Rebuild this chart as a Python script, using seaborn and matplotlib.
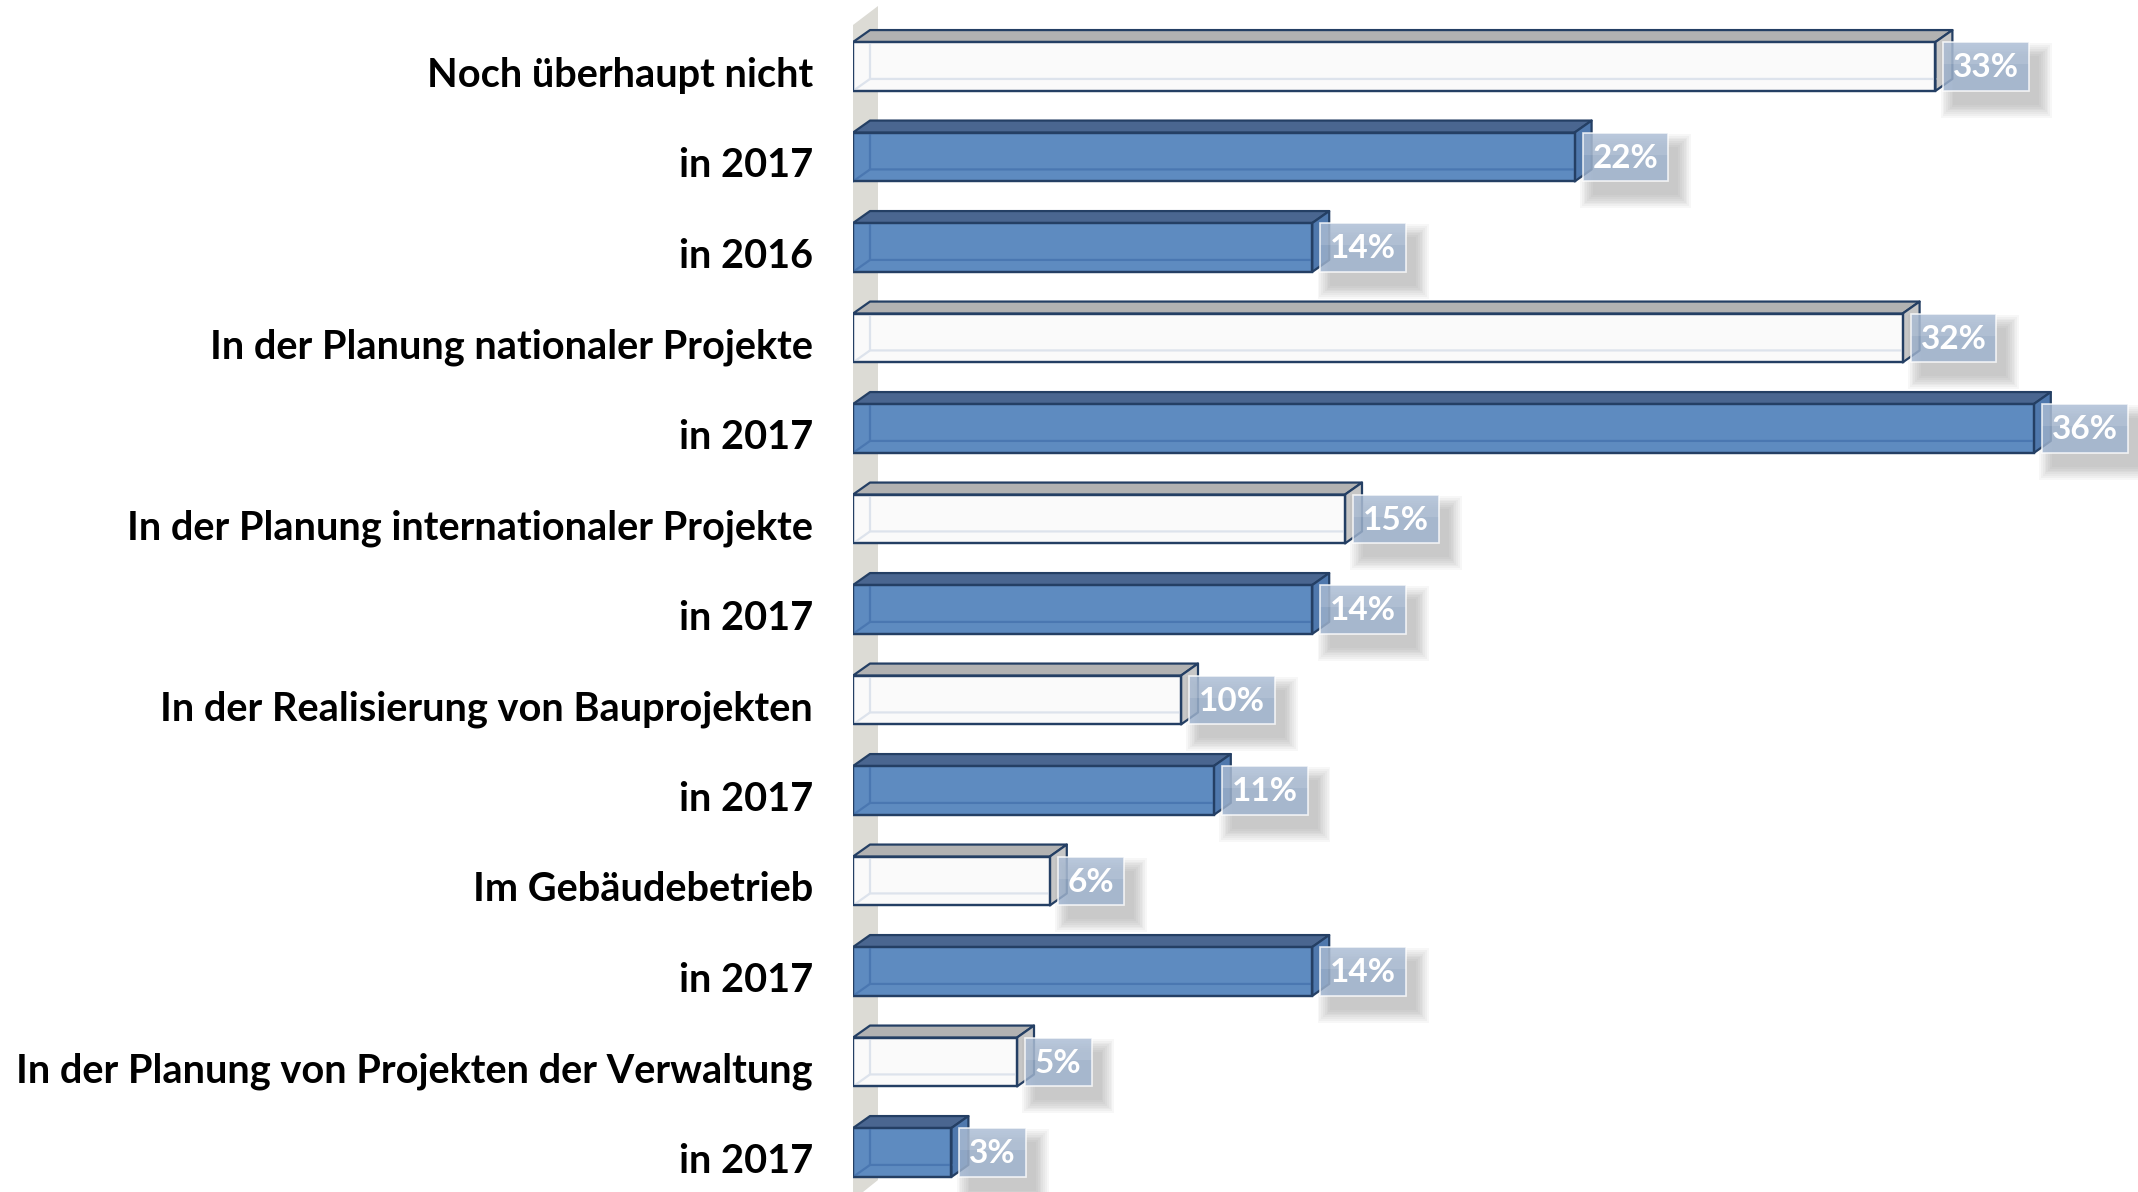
import matplotlib
matplotlib.use("Agg")
import matplotlib.pyplot as plt
import matplotlib.transforms as mtransforms
import seaborn as sns
import pandas as pd
import numpy as np
from matplotlib.patches import Polygon, Rectangle
from matplotlib.lines import Line2D

# ---------------- data ----------------
categories = [
    "Noch überhaupt nicht",
    "in 2017",
    "in 2016",
    "In der Planung nationaler Projekte",
    "in 2017",
    "In der Planung internationaler Projekte",
    "in 2017",
    "In der Realisierung von Bauprojekten",
    "in 2017",
    "Im Gebäudebetrieb",
    "in 2017",
    "In der Planung von Projekten der Verwaltung",
    "in 2017",
]
values = [33, 22, 14, 32, 36, 15, 14, 10, 11, 6, 14, 5, 3]
kinds = ["gesamt", "jahr", "jahr", "gesamt", "jahr", "gesamt", "jahr",
         "gesamt", "jahr", "gesamt", "jahr", "gesamt", "jahr"]
value_labels = [f"{v}%" for v in values]

# ---------------- styles ----------------
front = {"gesamt": "#fafafa", "jahr": "#5e8bc0"}
topc = {"gesamt": "#b2b2b2", "jahr": "#4a6690"}
sidec = {"gesamt": "#c6c6c6", "jahr": "#4f78ad"}
innerc = {"gesamt": "#dde3ec", "jahr": "#4a77b1"}
edge = "#243f64"

sns.set_theme(style="white")
plt.rcParams["font.family"] = ["Lato", "DejaVu Sans"]

W, H = 2138, 1192
fig = plt.figure(figsize=(W / 100, H / 100), dpi=100)
fig.patch.set_facecolor("white")
x_origin = 853
ax = fig.add_axes([x_origin / W, 0, (W - x_origin) / W, 1])

n = len(values)
df = pd.DataFrame({
    "key": [f"{i:02d}" for i in range(n)],
    "label": categories,
    "value": values,
    "kind": kinds,
})

sns.barplot(data=df, x="value", y="key", hue="kind", palette=front,
            dodge=False, legend=False, width=0.54, saturation=1,
            edgecolor=edge, linewidth=1.6, ax=ax, zorder=3)

row_px = 90.5
first_px = 66.5
ax.set_xlim(0, (W - x_origin) / 32.8)
ax.set_ylim(12 + (H - (first_px + 12 * row_px)) / row_px, -first_px / row_px)
ax.set_yticks(range(n))
ax.set_yticklabels(categories, fontsize=28.6, fontweight="bold", color="black")
ax.tick_params(axis="y", length=0, pad=40 * 0.72)
shift = mtransforms.ScaledTranslation(0, -5 / 100, fig.dpi_scale_trans)
for lbl in ax.get_yticklabels():
    lbl.set_transform(lbl.get_transform() + shift)
ax.set_xticks([])
ax.set_xlabel("")
ax.set_ylabel("")
for s in ax.spines.values():
    s.set_visible(False)
ax.set_facecolor("white")

t = ax.transData
pxx = t.transform((1, 0))[0] - t.transform((0, 0))[0]
pxy = abs(t.transform((0, 1))[1] - t.transform((0, 0))[1])
dx = 17 / pxx
dy = 12 / pxy


def to_data(px, py_top):
    return ax.transData.inverted().transform((px, H - py_top))


# back wall
w_tl = to_data(853, 25)
w_tr = to_data(878, 6)
w_br = to_data(878, 1180)
w_bl = to_data(853, 1200)
ax.add_patch(Polygon([w_tl, w_tr, w_br, w_bl], closed=True, fc="#dcdbd5",
                     ec="none", zorder=0.5, clip_on=False))

bars = [p for p in ax.patches if isinstance(p, Rectangle) and p.get_width() > 0]
bar_info = []
for p in bars:
    x0 = p.get_x()
    x1 = x0 + p.get_width()
    yt = p.get_y()
    yb = yt + p.get_height()
    idx = int(round((yt + yb) / 2))
    k = df["kind"][idx]
    # top face
    ax.add_patch(Polygon([(x0, yt), (x1, yt), (x1 + dx, yt - dy), (x0 + dx, yt - dy)],
                         closed=True, fc=topc[k], ec=edge, lw=1.6, zorder=2.8,
                         joinstyle="round"))
    # side face
    ax.add_patch(Polygon([(x1, yt), (x1 + dx, yt - dy), (x1 + dx, yb - dy), (x1, yb)],
                         closed=True, fc=sidec[k], ec=edge, lw=1.6, zorder=2.8,
                         joinstyle="round"))
    # inner (back) edges seen through the front face
    ax.add_line(Line2D([x0, x0 + dx, x1], [yb, yb - dy, yb - dy], color=innerc[k],
                       lw=1.6, zorder=3.5))
    ax.add_line(Line2D([x0 + dx, x0 + dx], [yt, yb - dy], color=innerc[k],
                       lw=1.6, zorder=3.5))
    # redraw front outline on top
    ax.add_patch(Rectangle((x0, yt), x1 - x0, yb - yt, fc="none", ec=edge,
                           lw=1.6, zorder=3.6))
    bar_info.append((x1, yt, yb, idx))

# value labels
texts = []
for x1, yt, yb, idx in bar_info:
    tx = ax.text(x1 + 18 / pxx, (yt + yb) / 2 + 1 / pxy, value_labels[idx],
                 ha="left", va="center", fontsize=24, fontweight="bold",
                 color="white", zorder=7)
    texts.append((tx, x1, yt, yb))

fig.canvas.draw()
renderer = fig.canvas.get_renderer()
for tx, x1, yt, yb in texts:
    bb = tx.get_window_extent(renderer)
    right = ax.transData.inverted().transform((bb.x1, 0))[0] + 10 / pxx
    left = x1 + 8 / pxx
    wdt = right - left
    hgt = yb - yt
    # soft shadow
    for j in range(8):
        g = j * 1.8
        ax.add_patch(Rectangle((left + (10 - g) / pxx, yt + (14 - g) / pxy),
                               wdt + 2 * g / pxx, hgt + 2 * g / pxy,
                               fc=(0.45, 0.45, 0.45, 0.055), ec="none", zorder=4))
    ax.add_patch(Rectangle((left, yt), wdt, hgt, fc=(0.62, 0.70, 0.81, 0.8),
                           ec=(1, 1, 1, 0.8), lw=1.2, zorder=5))
    ax.add_patch(Rectangle((left, yt), wdt, hgt * 0.45, fc=(1, 1, 1, 0.12),
                           ec="none", zorder=5.1))

fig.savefig("out.png", dpi=100, facecolor="white")
